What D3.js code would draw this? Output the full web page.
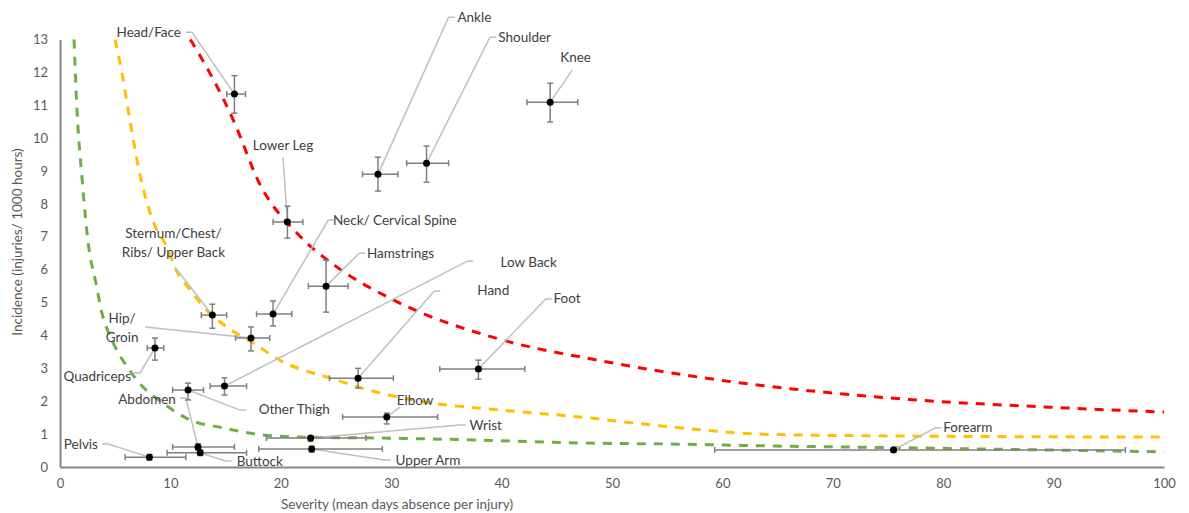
<!DOCTYPE html>
<html>
<head>
<meta charset="utf-8">
<script src="https://cdn.jsdelivr.net/npm/d3@7"></script>
<style>
  body { margin: 0; background: #fff; }
  svg { font-family: Lato, "Open Sans", sans-serif; }
</style>
</head>
<body>
<svg id="chart" width="1189" height="513"></svg>
<script>
// injury locations: severity (days absence) vs incidence (per 1000 h), with error bars
const categories = ['Head/Face', 'Ankle', 'Shoulder', 'Knee', 'Lower Leg', 'Neck/ Cervical Spine', 'Hamstrings',
  'Sternum/Chest/\nRibs/ Upper Back', 'Hip/\nGroin', 'Quadriceps', 'Low Back', 'Other Thigh', 'Hand', 'Foot',
  'Elbow', 'Wrist', 'Upper Arm', 'Abdomen', 'Buttock', 'Pelvis', 'Forearm'];
const severity  = [15.8, 28.8, 33.2, 44.4, 20.6, 19.3, 24.1, 13.8, 17.3, 8.6, 14.9, 11.6, 27.0, 37.9, 29.6, 22.7, 22.8, 12.5, 12.7, 8.1, 75.5];
const incidence = [11.34, 8.9, 9.24, 11.09, 7.45, 4.65, 5.5, 4.62, 3.92, 3.62, 2.46, 2.34, 2.70, 2.98, 1.52, 0.88, 0.55, 0.61, 0.43, 0.30, 0.52];
const sevLo = [15.1, 27.4, 31.4, 42.3, 19.3, 17.8, 22.5, 12.8, 15.9, 7.9, 13.6, 10.2, 24.4, 34.4, 25.6, 18.7, 18.0, 10.2, 9.7, 5.9, 59.3];
const sevHi = [16.8, 30.6, 35.2, 46.9, 22.0, 21.0, 26.1, 15.1, 19.0, 9.4, 16.9, 13.0, 30.2, 42.1, 34.2, 27.7, 29.2, 15.8, 16.9, 11.4, 96.5];
const incLo = [10.76, 8.39, 8.66, 10.49, 6.96, 4.29, 4.71, 4.22, 3.53, 3.25, 2.19, 2.04, 2.40, 2.67, 1.31, 0.78, 0.45, 0.51, 0.35, 0.21, 0.46];
const incHi = [11.9, 9.42, 9.76, 11.67, 7.93, 5.05, 6.29, 4.95, 4.26, 3.92, 2.71, 2.55, 3.0, 3.25, 1.64, 0.95, 0.63, 0.71, 0.52, 0.38, 0.58];

// reference curves
const redX = [11.8, 12.7, 15.7, 18.1, 21.5, 25, 30.2, 40.1, 48.7, 59.8, 74, 91.5, 100];
const redY = [13.0, 12.5, 10.55, 8.6, 7.1, 6.1, 5.08, 3.86, 3.25, 2.64, 2.13, 1.79, 1.67];
const yellowX = [4.98, 5.6, 6.3, 7.3, 8.4, 9.8, 10.4, 11.8, 13.3, 15.1, 17.5, 19.9, 24.5, 29.0, 33.5, 38.0, 47.1, 55.3, 64.3, 73.1, 100];
const yellowY = [13.0, 12.0, 10.6, 8.8, 7.5, 6.6, 6.08, 5.38, 4.77, 4.26, 3.77, 3.25, 2.7, 2.25, 1.95, 1.79, 1.52, 1.22, 0.99, 0.95, 0.91];
const greenX = [1.27, 1.54, 1.99, 2.6, 3.2, 3.8, 4.7, 6.1, 7.2, 9.3, 11.8, 14.8, 17.8, 21.7, 29, 38, 47.1, 55.3, 64.3, 73.1, 100];
const greenY = [13.0, 10.85, 8.8, 6.69, 5.68, 4.68, 3.86, 3.04, 2.55, 1.95, 1.43, 1.19, 1.0, 0.91, 0.88, 0.82, 0.73, 0.70, 0.64, 0.60, 0.46];

const xTicks = [0, 10, 20, 30, 40, 50, 60, 70, 80, 90, 100];
const yTicks = [0, 1, 2, 3, 4, 5, 6, 7, 8, 9, 10, 11, 12, 13];

// label placement in data units: elbow of leader line and text anchor
const labelPos = {
  'Head/Face':            { ex: 11.96, ey: 13.22, tx: 10.96, ty: 13.22, anchor: 'end' },
  'Ankle':                { ex: 35.2, ey: 13.68, tx: 36.0, ty: 13.68, anchor: 'start' },
  'Shoulder':             { ex: 38.95, ey: 13.07, tx: 39.7, ty: 13.07, anchor: 'start' },
  'Knee':                 { ex: 46.4, ey: 12.07, tx: 46.7, ty: 12.46, anchor: 'middle' },
  'Lower Leg':            { ex: 20.2, ey: 9.42, tx: 20.2, ty: 9.79, anchor: 'middle' },
  'Neck/ Cervical Spine': { ex: 24.3, ey: 7.51, tx: 24.73, ty: 7.51, anchor: 'start' },
  'Hamstrings':           { ex: 27.1, ey: 6.5, tx: 27.8, ty: 6.5, anchor: 'start' },
  'Sternum/Chest/\nRibs/ Upper Back': { ex: 10.4, ey: 6.08, tx: 10.28, ty: 7.11, anchor: 'middle' },
  'Hip/\nGroin':          { ex: 7.7, ey: 4.26, tx: 5.62, ty: 4.53, anchor: 'middle' },
  'Quadriceps':           { ex: 7.25, ey: 2.86, tx: 6.43, ty: 2.77, anchor: 'end' },
  'Low Back':             { ex: 36.9, ey: 6.26, tx: 39.9, ty: 6.23, anchor: 'start' },
  'Other Thigh':          { ex: 16.3, ey: 1.73, tx: 18.0, ty: 1.76, anchor: 'start' },
  'Hand':                 { ex: 33.9, ey: 5.35, tx: 37.8, ty: 5.38, anchor: 'start' },
  'Foot':                 { ex: 44.0, ey: 5.11, tx: 44.7, ty: 5.14, anchor: 'start' },
  'Elbow':                { ex: 30.8, ey: 1.82, tx: 30.5, ty: 2.04, anchor: 'start', noStub: true },
  'Wrist':                { ex: 36.2, ey: 1.28, tx: 37.1, ty: 1.29, anchor: 'start' },
  'Upper Arm':            { ex: 29.4, ey: 0.21, tx: 30.4, ty: 0.21, anchor: 'start' },
  'Abdomen':              { ex: 11.4, ey: 2.1, tx: 10.5, ty: 2.07, anchor: 'end' },
  'Buttock':              { ex: 15.0, ey: 0.18, tx: 16.0, ty: 0.18, anchor: 'start' },
  'Pelvis':               { ex: 4.35, ey: 0.7, tx: 3.44, ty: 0.7, anchor: 'end' },
  'Forearm':              { ex: 79.3, ey: 1.19, tx: 80.0, ty: 1.22, anchor: 'start' }
};

const margin = { top: 39.5, right: 25, bottom: 46, left: 60 };
const width = 1189 - margin.left - margin.right,
      height = 513 - margin.top - margin.bottom;

const svg = d3.select('#chart');
const g = svg.append('g').attr('transform', `translate(${margin.left},${margin.top})`);

const x = d3.scaleLinear().domain([0, 100]).range([0, width]);
const y = d3.scaleLinear().domain([0, 13]).range([height, 0]);

// axes
const xAxis = g.append('g').attr('transform', `translate(0,${height})`)
  .call(d3.axisBottom(x).tickValues(xTicks).tickSize(0).tickPadding(12));
const yAxis = g.append('g')
  .call(d3.axisLeft(y).tickValues(yTicks).tickSize(0).tickPadding(12));
[xAxis, yAxis].forEach(a => {
  a.select('.domain').attr('stroke', '#868686').attr('stroke-width', 2);
  a.selectAll('text').attr('fill', '#595959').style('font-size', '13px').style('font-family', 'Lato, sans-serif');
});

svg.append('text')
  .attr('x', 397).attr('y', 509)
  .attr('text-anchor', 'middle')
  .attr('fill', '#595959').style('font-size', '13.5px')
  .text('Severity (mean  days absence per injury)');
svg.append('text')
  .attr('transform', 'translate(22,242) rotate(-90)')
  .attr('text-anchor', 'middle')
  .attr('fill', '#595959').style('font-size', '13.5px')
  .text('Incidence (injuries/ 1000 hours)');

// reference curves
const line = d3.line().x(d => x(d[0])).y(d => y(d[1])).curve(d3.curveMonotoneX);
[[greenX, greenY, '#70AD47'], [yellowX, yellowY, '#FFC000'], [redX, redY, '#FF0000']].forEach(([xs, ys, c]) => {
  g.append('path')
    .datum(d3.zip(xs, ys))
    .attr('d', line)
    .attr('fill', 'none')
    .attr('stroke', c)
    .attr('stroke-width', 3)
    .attr('stroke-dasharray', '9,8');
});

const points = categories.map((c, i) => ({
  name: c, sx: severity[i], iy: incidence[i],
  xl: sevLo[i], xh: sevHi[i], yl: incLo[i], yh: incHi[i]
}));

// leader lines
const leaders = g.append('g');
points.forEach(p => {
  const l = labelPos[p.name];
  const ex = x(l.ex), ey = y(l.ey);
  const pts = [[x(p.sx), y(p.iy)], [ex, ey]];
  if (!l.noStub && l.anchor !== 'middle') {
    pts.push([ex + (l.anchor === 'start' ? 6 : -6), ey]);
  }
  leaders.append('path')
    .attr('d', d3.line()(pts))
    .attr('fill', 'none')
    .attr('stroke', '#bfbfbf')
    .attr('stroke-width', 1.5);
});

// error bars
const eb = g.append('g').attr('stroke', '#7f7f7f').attr('stroke-width', 1.5);
const cap = 3;
points.forEach(p => {
  const cx = x(p.sx), cy = y(p.iy);
  eb.append('line').attr('x1', x(p.xl)).attr('x2', x(p.xh)).attr('y1', cy).attr('y2', cy);
  eb.append('line').attr('x1', x(p.xl)).attr('x2', x(p.xl)).attr('y1', cy - cap).attr('y2', cy + cap);
  eb.append('line').attr('x1', x(p.xh)).attr('x2', x(p.xh)).attr('y1', cy - cap).attr('y2', cy + cap);
  eb.append('line').attr('x1', cx).attr('x2', cx).attr('y1', y(p.yl)).attr('y2', y(p.yh));
  eb.append('line').attr('x1', cx - cap).attr('x2', cx + cap).attr('y1', y(p.yl)).attr('y2', y(p.yl));
  eb.append('line').attr('x1', cx - cap).attr('x2', cx + cap).attr('y1', y(p.yh)).attr('y2', y(p.yh));
});

g.append('g').selectAll('circle')
  .data(points)
  .join('circle')
    .attr('cx', d => x(d.sx))
    .attr('cy', d => y(d.iy))
    .attr('r', 3.5)
    .attr('fill', '#000');

// labels
const labels = g.append('g').style('font-size', '13.5px').attr('fill', '#404040');
points.forEach(p => {
  const l = labelPos[p.name];
  const t = labels.append('text')
    .attr('x', x(l.tx)).attr('y', y(l.ty))
    .attr('text-anchor', l.anchor)
    .attr('dominant-baseline', 'central');
  p.name.split('\n').forEach((s, i) => {
    t.append('tspan').attr('x', x(l.tx)).attr('dy', i ? 18.5 : 0).text(s);
  });
});
</script>
</body>
</html>
